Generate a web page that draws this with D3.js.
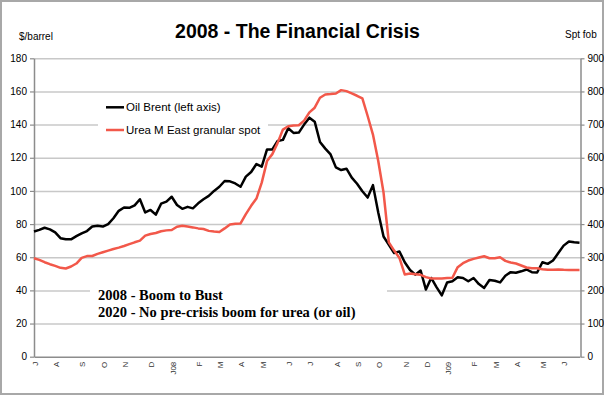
<!DOCTYPE html>
<html><head><meta charset="utf-8">
<script src="https://cdn.jsdelivr.net/npm/d3@7/dist/d3.min.js"></script>
<style>
body{margin:0;background:#fff}
svg{display:block}
text{font-family:"Liberation Sans",Arial,sans-serif}
</style>
</head><body>
<svg id="c" width="604" height="395"></svg>
<script>
// ---- data (weekly, Jul 2007 - Jun 2009) ----
const monthLabels = ["J","A","S","O","N","D","J08","F","M","A","M","J","J","A","S","O","N","D","J09","F","M","A","M","J"];
const monthStartWeek = [0,4,9,13,17,22,26,31,35,39,43,48,52,57,61,65,70,74,78,83,87,91,96,100];
const oilBrent = [75.5,76.5,77.8,76.8,75,71.5,70.8,70.8,72.7,74.4,75.8,78.5,79,78.5,80,83.5,88,90,89.8,91.3,
  95,87,88.5,85.7,92.3,93.5,96.5,91.5,89.2,90.4,89.5,92.5,95,97,100,102.5,106,105.8,104.5,102.5,
  108.6,111.4,116.2,114.6,125,125,130.1,130.8,137.8,135,135.2,140,144.2,141.8,129.5,125.5,122,114.2,112.6,113.4,
  108,104.3,99.8,96,103.5,87,72.5,67.5,62.5,63.5,57,52.3,49.5,52,40.5,47.5,42,37,44.8,45.5,
  47.9,47.5,45.5,47.5,43.8,41.5,46.3,45.8,44.8,48.8,51,50.6,51.5,52.6,51,50.8,57,56,58,62.5,
  67,69.5,69,68.8];
const ureaSpot = [297,292,285,279,274,268,266,272,281,298,303.5,303.7,310,315,320,325,329,334,339.5,345,
  350,365,370,373,378.5,381,382,392,395,392.5,390,387,385,379.5,377.5,376,387,399,401,402,
  430,455,477,525,590,611,645,685,695,697,698,712,737,751,781,791,792,794,804,801,
  794,787,779,726,670,590,495,345,320,298,248,251,249,247,240,236,236,236,237,238,
  270,282,290,295,299,303,297,297,300,289,284,281,275,269,266.6,266.5,264,262,262,263,
  262,261.5,261.5,261.5];
const leftTicks = [0,20,40,60,80,100,120,140,160,180];
const rightTicks = [0,100,200,300,400,500,600,700,800,900];
const seriesNames = ["Oil Brent (left axis)","Urea M East granular spot"];
const noteLines = ["2008 - Boom to Bust","2020 - No pre-crisis boom for urea (or oil)"];

// ---- layout ----
const W = 604, H = 395;
const m = {l: 34, r: 580.5, t: 58.3, b: 356.7};
const svg = d3.select("#c");

svg.append("rect").attr("x",1).attr("y",1).attr("width",W-2).attr("height",H-2)
  .attr("fill","#fff").attr("stroke","#a8a8a8").attr("stroke-width",2);

const x = d3.scaleLinear().domain([0, oilBrent.length-1]).range([m.l, m.r - 1]);
const yL = d3.scaleLinear().domain([0,180]).range([m.b, m.t]);
const yR = d3.scaleLinear().domain([0,900]).range([m.b, m.t]);

// gridlines
svg.append("g").attr("transform",`translate(${m.l},0)`)
  .call(d3.axisLeft(yL).tickValues(leftTicks.slice(1)).tickSize(-(m.r-m.l)).tickFormat(""))
  .call(g => g.select(".domain").remove())
  .selectAll("line").attr("stroke","#c8c8c8").attr("stroke-width",1.5);

// white boxes (legend and note) hiding grid
svg.append("rect").attr("x",98).attr("y",95).attr("width",170).attr("height",48).attr("fill","#fff");
svg.append("rect").attr("x",90).attr("y",284).attr("width",297).attr("height",37).attr("fill","#fff");

// axes
const axisColor = "#8c8c8c";
const gl = svg.append("g").attr("transform",`translate(${m.l},0)`)
  .call(d3.axisLeft(yL).tickValues(leftTicks).tickSize(4).tickSizeOuter(0).tickPadding(3));
const gr = svg.append("g").attr("transform",`translate(${m.r},0)`)
  .call(d3.axisRight(yR).tickValues(rightTicks).tickSize(4).tickSizeOuter(0).tickPadding(3));
const gb = svg.append("g").attr("transform",`translate(0,${m.b})`)
  .call(d3.axisBottom(x).tickValues(monthStartWeek).tickFormat((d,i)=>monthLabels[i]).tickSize(0).tickSizeOuter(0));
[gl,gr,gb].forEach(g => {
  g.select(".domain").attr("stroke",axisColor).attr("stroke-width",1.5);
  g.selectAll(".tick line").attr("stroke",axisColor).attr("stroke-width",1.2);
  g.selectAll("text").attr("fill","#000").style("font-size","10px").style("font-family",'"Liberation Sans",Arial,sans-serif');
});
gb.selectAll("text")
  .attr("transform","rotate(-90)").attr("text-anchor","end")
  .attr("x",-5).attr("y",0.5).attr("dy","0.35em")
  .attr("fill","#333").style("font-size","8px");

// lines
const lineOil = d3.line().x((d,i)=>x(i)).y(d=>yL(d));
const lineUrea = d3.line().x((d,i)=>x(i)).y(d=>yR(d));
svg.append("path").datum(oilBrent).attr("d",lineOil).attr("fill","none")
  .attr("stroke","#000").attr("stroke-width",2.5).attr("stroke-linejoin","round");
svg.append("path").datum(ureaSpot).attr("d",lineUrea).attr("fill","none")
  .attr("stroke","#f2584a").attr("stroke-width",2.5).attr("stroke-linejoin","round");

// titles
svg.append("text").attr("x",297.5).attr("y",37.5).attr("text-anchor","middle")
  .style("font-size","19.5px").style("font-weight","bold").text("2008 - The Financial Crisis");
svg.append("text").attr("x",19).attr("y",40).style("font-size","10px").text("$/barrel");
svg.append("text").attr("x",565).attr("y",38).style("font-size","10px").text("Spt fob");

// legend
const legColors = ["#000","#f2584a"];
const legY = [107.3,130];
seriesNames.forEach((s,i)=>{
  svg.append("line").attr("x1",106).attr("x2",124).attr("y1",legY[i]).attr("y2",legY[i])
    .attr("stroke",legColors[i]).attr("stroke-width",2.5);
  svg.append("text").attr("x",126).attr("y",legY[i]).attr("dy","0.35em")
    .style("font-size","11.5px").text(s);
});

// note
noteLines.forEach((t,i)=>{
  svg.append("text").attr("x",98).attr("y",300+i*17)
    .style("font-family",'"Liberation Serif","Times New Roman",serif')
    .style("font-size","14.5px").style("font-weight","bold").text(t);
});
</script>
</body></html>
